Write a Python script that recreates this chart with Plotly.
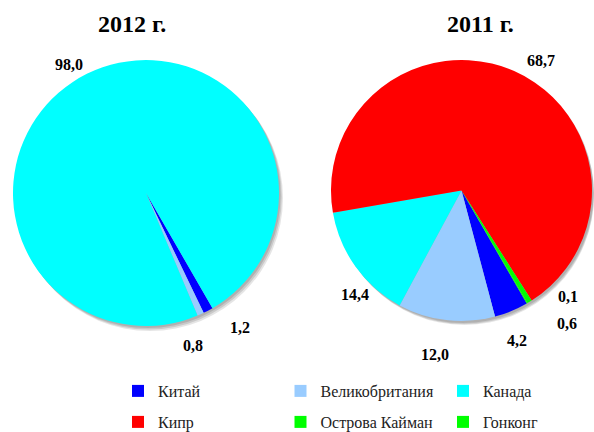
import math
import plotly.graph_objects as go

# Data
labels_2012 = ["Китай", "Великобритания", "Канада"]
values_2012 = [1.2, 0.8, 98.0]
labels_2011 = ["Китай", "Великобритания", "Канада", "Кипр", "Острова Кайман", "Гонконг"]
values_2011 = [4.2, 12.0, 14.4, 68.7, 0.6, 0.1]
color_map = {
    "Китай": "#0000FF",
    "Великобритания": "#99CCFF",
    "Канада": "#00FFFF",
    "Кипр": "#FF0000",
    "Острова Кайман": "#00FF00",
    "Гонконг": "#00FF00",
}
titles = ["2012 г.", "2011 г."]

W, H = 594, 432
FONT = "Liberation Serif"
ROTATION = 150

# label placement tweaks (angular nudge in degrees, distance beyond the rim in px)
nudge_2012 = [(-7.2, 31), (7.2, 27), (-4.4, 17)]
nudge_2011 = [(2.2, 29.5), (2.5, 36), (-8.7, 18.5), (7.7, 21.5), (-6.9, 39.5), (-14.8, 20)]


def dom(x0, x1, y0, y1, dx=0, dy=0):
    xa = max(0.0, min(1.0, (x0 + dx) / W))
    xb = max(0.0, min(1.0, (x1 + dx) / W))
    return dict(x=[xa, xb], y=[1 - (y1 + dy) / H, 1 - (y0 + dy) / H])


left = (13, 279, 60, 326)
right = (331, 592, 60, 321)

fig = go.Figure()

# soft shadows behind pies
for box in (left, right):
    for off, a in ((5, 0.10), (3.5, 0.12), (2, 0.12)):
        fig.add_trace(go.Pie(
            values=[1], labels=["shadow"], domain=dom(*box, dx=off * 0.8, dy=off),
            marker=dict(colors=["rgba(0,0,0,%.2f)" % a], line=dict(width=0)), textinfo="none",
            hoverinfo="skip", showlegend=False, sort=False,
        ))

common = dict(
    sort=False, direction="clockwise", rotation=ROTATION,
    textinfo="none",
    hovertemplate="%{label}: %{value:.1f}<extra></extra>",
)

fig.add_trace(go.Pie(
    labels=labels_2012, values=values_2012, domain=dom(*left),
    marker=dict(colors=[color_map[l] for l in labels_2012], line=dict(width=0)),
    legend="legend", **common,
))
fig.add_trace(go.Pie(
    labels=labels_2011, values=values_2011, domain=dom(*right),
    marker=dict(colors=[color_map[l] for l in labels_2011], line=dict(width=0)),
    legend="legend2", **common,
))


def value_labels(values, box, nudges):
    cx = (box[0] + box[1]) / 2
    cy = (box[2] + box[3]) / 2
    r = min(box[1] - box[0], box[3] - box[2]) / 2
    total = sum(values)
    start = ROTATION
    out = []
    for v, (da, dr) in zip(values, nudges):
        span = 360 * v / total
        mid = math.radians(start + span / 2 + da)
        start += span
        d = r + dr
        px = cx + d * math.sin(mid)
        py = cy - d * math.cos(mid)
        out.append(dict(
            text="<b>%s</b>" % ("%.1f" % v).replace(".", ","),
            x=px / W, y=1 - py / H, xref="paper", yref="paper",
            xanchor="center", yanchor="middle", showarrow=False,
            font=dict(family=FONT, size=16, color="black"),
        ))
    return out


annotations = [
    dict(text="<b>%s</b>" % titles[0], x=132 / W, y=1 - 24 / H, xref="paper", yref="paper",
         xanchor="center", yanchor="middle", showarrow=False,
         font=dict(family=FONT, size=24, color="black")),
    dict(text="<b>%s</b>" % titles[1], x=480 / W, y=1 - 24 / H, xref="paper", yref="paper",
         xanchor="center", yanchor="middle", showarrow=False,
         font=dict(family=FONT, size=24, color="black")),
]
annotations += value_labels(values_2012, left, nudge_2012)
annotations += value_labels(values_2011, right, nudge_2011)

leg = dict(orientation="h", xanchor="left", yanchor="top", x=118 / W,
           entrywidth=117.5, entrywidthmode="pixels", bgcolor="rgba(0,0,0,0)",
           font=dict(family=FONT, size=16, color="#222222"), traceorder="normal")

fig.update_layout(
    width=W, height=H,
    font=dict(family=FONT),
    margin=dict(l=0, r=0, t=0, b=0, autoexpand=False),
    paper_bgcolor="white", plot_bgcolor="white",
    separators=", ",
    legend=dict(leg, y=1 - 374 / H),
    legend2=dict(leg, y=1 - 405 / H),
    annotations=annotations,
)

fig.write_html("out.html", config={"displayModeBar": False},
               post_script="document.body.style.margin='0';document.body.style.overflow='hidden';")
